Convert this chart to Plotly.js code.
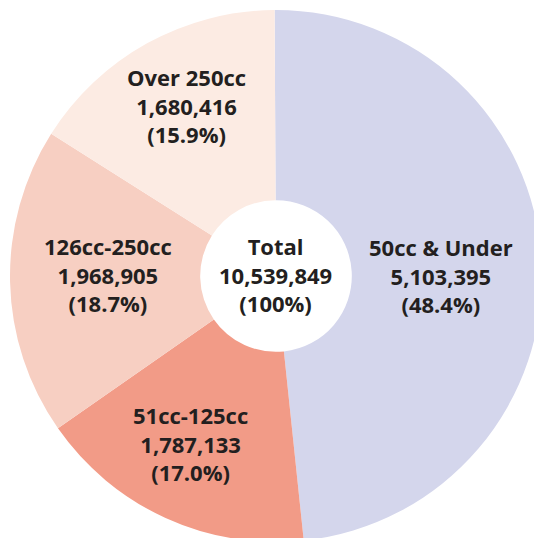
<!DOCTYPE html>
<html>
<head>
<meta charset="utf-8">
<script src="https://cdn.plot.ly/plotly-3.0.1.min.js"></script>
<style>
html, body { margin: 0; padding: 0; overflow: hidden; background: #ffffff; }
#chart { width: 552px; height: 552px; }
</style>
</head>
<body>
<div id="chart"></div>
<script>
const categories = ["50cc & Under", "51cc-125cc", "126cc-250cc", "Over 250cc"];
const values = [5103395, 1787133, 1968905, 1680416];
const sliceColors = ["#d4d6ec", "#f29b87", "#f7cfc2", "#fcebe3"];
const totalLabel = "Total";

// layout-only: label block centres in page pixels (x, y of middle line)
const labelCentres = [[441, 276], [190, 444], [108, 275], [186, 107]];
const totalCentre = [275, 275];

const W = 552, H = 552;
const total = values.reduce((a, b) => a + b, 0);
const fmt = n => n.toLocaleString("en-US");
const font = { family: "Open Sans, Noto Sans, sans-serif", size: 22, color: "#231f20", weight: "bold" };

const trace = {
  type: "pie",
  labels: categories,
  values: values,
  sort: false,
  direction: "clockwise",
  rotation: -0.3,
  hole: 0.285,
  marker: { colors: sliceColors, line: { width: 0 } },
  textinfo: "none",
  hoverinfo: "none",
  domain: { x: [10 / W, 542 / W], y: [10 / H, 542 / H] }
};

const annotations = [];
function addBlock(lines, cx, cy) {
  annotations.push({
    text: lines.join("<br>"),
    x: cx / W, y: 1 - cy / H, xref: "paper", yref: "paper",
    xanchor: "center", yanchor: "middle",
    yshift: 1,
    showarrow: false,
    font: font
  });
}
categories.forEach((c, i) => {
  const pct = (values[i] / total * 100).toFixed(1) + "%";
  addBlock([c, fmt(values[i]), "(" + pct + ")"], labelCentres[i][0], labelCentres[i][1]);
});
addBlock([totalLabel, fmt(total), "(100%)"], totalCentre[0], totalCentre[1]);

const layout = {
  width: W,
  height: H,
  margin: { l: 0, r: 0, t: 0, b: 0 },
  showlegend: false,
  paper_bgcolor: "#ffffff",
  annotations: annotations
};

Plotly.newPlot("chart", [trace], layout, { displayModeBar: false, staticPlot: true });
</script>
</body>
</html>
